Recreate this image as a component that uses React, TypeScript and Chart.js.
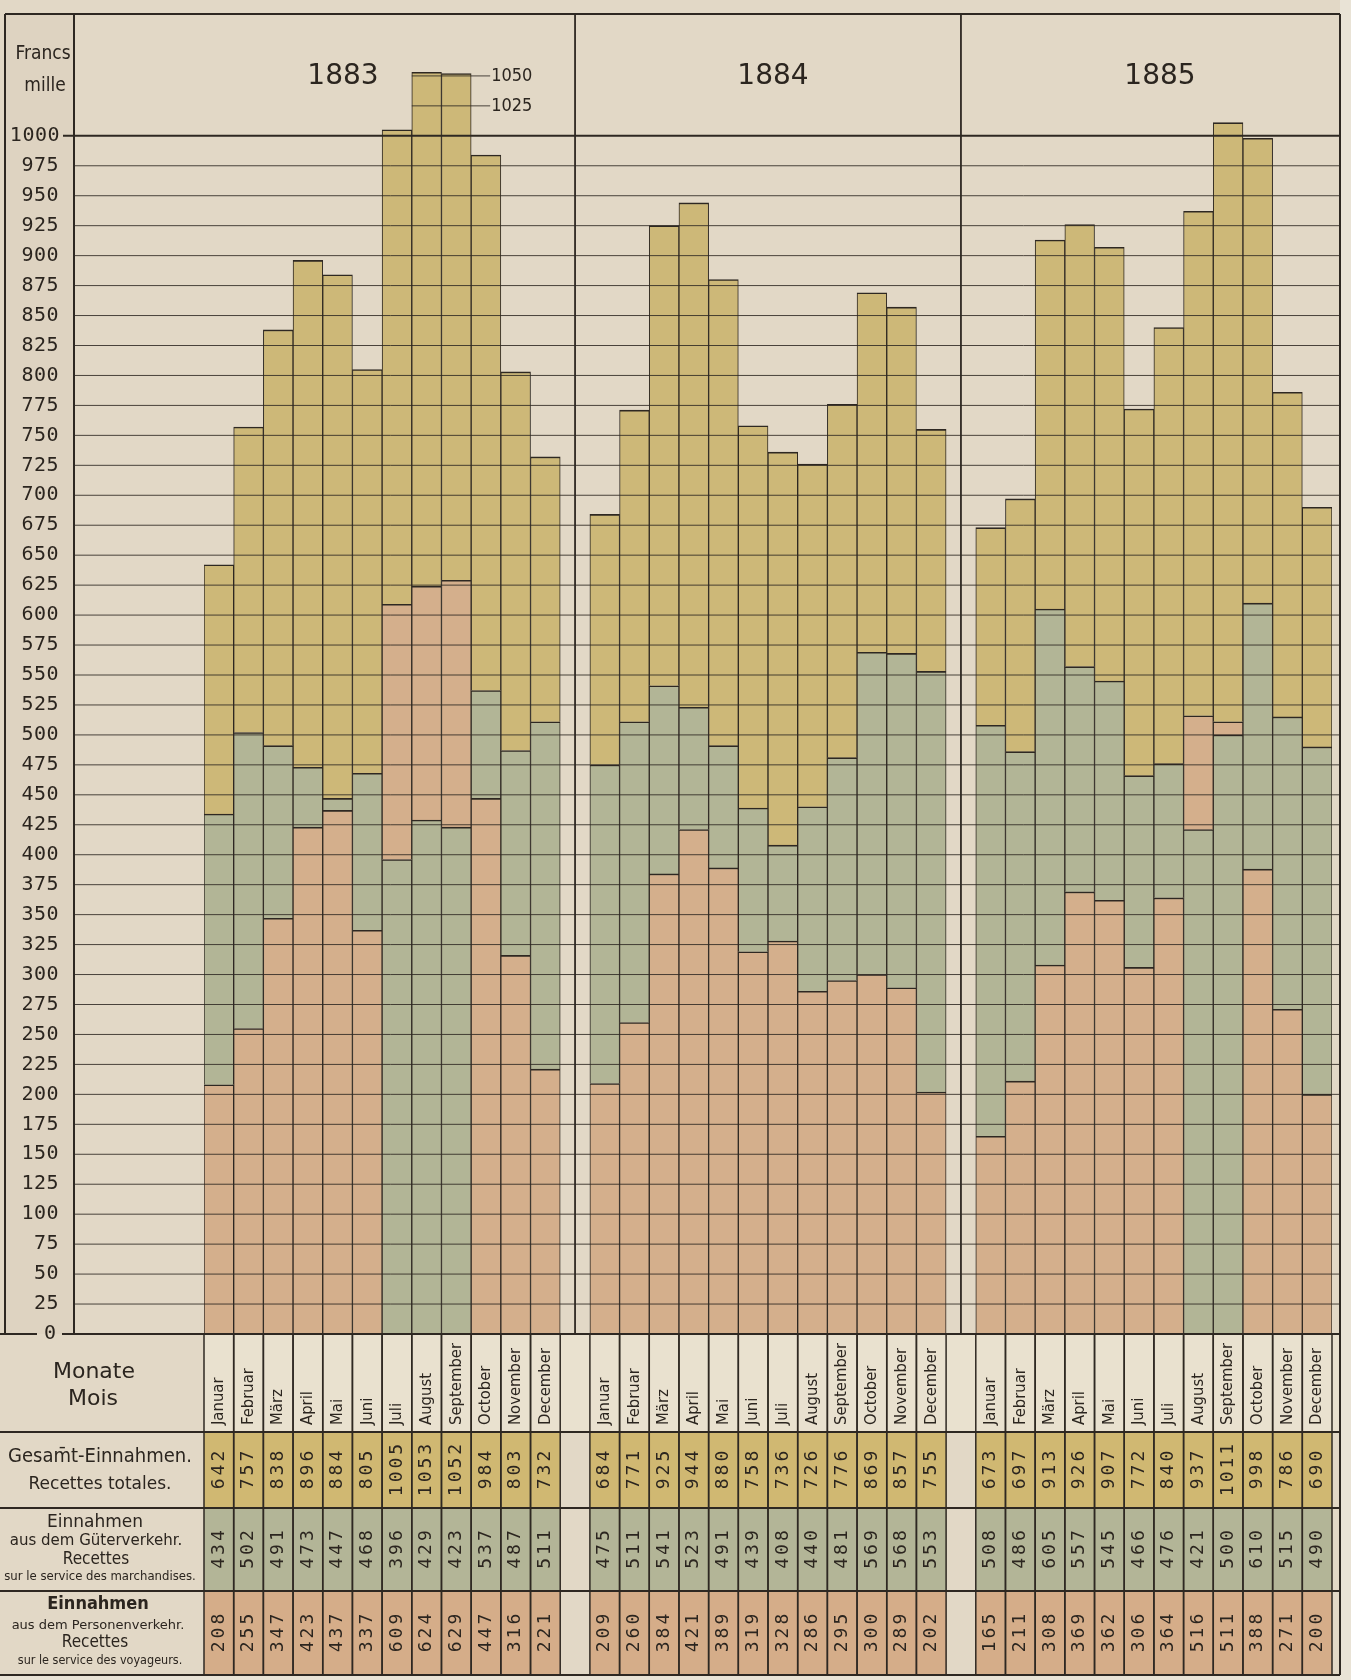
import React, { useEffect, useRef } from "react";
import { Chart, registerables } from "chart.js";

Chart.register(...registerables);

// ---------------- data ----------------
const years = ["1883", "1884", "1885"];
const months = ["Januar", "Februar", "März", "April", "Mai", "Juni", "Juli", "August", "September", "October", "November", "December"];

const total1883 = [642, 757, 838, 896, 884, 805, 1005, 1053, 1052, 984, 803, 732];
const goods1883 = [434, 502, 491, 473, 447, 468, 396, 429, 423, 537, 487, 511];
const passengers1883 = [208, 255, 347, 423, 437, 337, 609, 624, 629, 447, 316, 221];

const total1884 = [684, 771, 925, 944, 880, 758, 736, 726, 776, 869, 857, 755];
const goods1884 = [475, 511, 541, 523, 491, 439, 408, 440, 481, 569, 568, 553];
const passengers1884 = [209, 260, 384, 421, 389, 319, 328, 286, 295, 300, 289, 202];

const total1885 = [673, 697, 913, 926, 907, 772, 840, 937, 1011, 998, 786, 690];
const goods1885 = [508, 486, 605, 557, 545, 466, 476, 421, 500, 610, 515, 490];
const passengers1885 = [165, 211, 308, 369, 362, 306, 364, 516, 511, 388, 271, 200];

const yTicks = [0, 25, 50, 75, 100, 125, 150, 175, 200, 225, 250, 275, 300, 325, 350, 375, 400, 425, 450, 475, 500, 525, 550, 575, 600, 625, 650, 675, 700, 725, 750, 775, 800, 825, 850, 875, 900, 925, 950, 975, 1000];
const upperTicks = [1025, 1050];

// ---------------- build series ----------------
const totalsByYear = [total1883, total1884, total1885];
const goodsByYear = [goods1883, goods1884, goods1885];
const passByYear = [passengers1883, passengers1884, passengers1885];

const labels: string[] = [];
const totals: (number | null)[] = [];
const goods: (number | null)[] = [];
const pass: (number | null)[] = [];
const yearOfSlot: number[] = [];
years.forEach((_, yi) => {
  if (yi > 0) {
    labels.push("");
    totals.push(null);
    goods.push(null);
    pass.push(null);
    yearOfSlot.push(-1);
  }
  months.forEach((m, i) => {
    labels.push(m);
    totals.push(totalsByYear[yi][i]);
    goods.push(goodsByYear[yi][i]);
    pass.push(passByYear[yi][i]);
    yearOfSlot.push(yi);
  });
});

// ---------------- styles ----------------
const W = 1351;
const H = 1680;
const PAPER = "#e2d8c6";
const PAPER_DARK = "#ded3c1";
const CREAM = "#e9e1cf";
const YELLOW = "#cdb878";
const GREEN = "#b2b596";
const PINK = "#d4af8c";
const T_YELLOW = "#d0b872";
const T_GREEN = "#b3b597";
const T_PINK = "#d5ad89";
const INK = "#2b251f";
const LINE = "#2e2822";

const FRAME_TOP = 14;
const FRAME_LEFT = 5;
const AXIS_X = 74;
const FRAME_RIGHT = 1340;
const PLOT_LEFT = 204;
const PLOT_RIGHT = 1332;
const ZERO_Y = 1334;
const ROW_MONTH = 1432;
const ROW_TOTAL = 1508;
const ROW_GOODS = 1591;
const ROW_PASS = 1675;

const isMonth = (i: number) => goods[i] !== null;

const lowData = goods.map((g, i) => (g === null ? null : [0, Math.min(g, pass[i] as number)]));
const midData = goods.map((g, i) => (g === null ? null : [Math.min(g, pass[i] as number), Math.max(g, pass[i] as number)]));
const topData = goods.map((g, i) => (g === null ? null : [Math.max(g, pass[i] as number), totals[i] as number]));
const lowColors = goods.map((g, i) => (g !== null && g < (pass[i] as number) ? GREEN : PINK));
const midColors = goods.map((g, i) => (g !== null && g < (pass[i] as number) ? PINK : GREEN));

function hline(ctx: CanvasRenderingContext2D, x1: number, x2: number, y: number, w: number) {
  ctx.lineWidth = w;
  ctx.beginPath();
  ctx.moveTo(x1, y);
  ctx.lineTo(x2, y);
  ctx.stroke();
}
function vline(ctx: CanvasRenderingContext2D, x: number, y1: number, y2: number, w: number) {
  ctx.lineWidth = w;
  ctx.beginPath();
  ctx.moveTo(x, y1);
  ctx.lineTo(x, y2);
  ctx.stroke();
}
function text(ctx: CanvasRenderingContext2D, s: string, x: number, y: number, font: string, align: CanvasTextAlign = "center", spacing = "0px") {
  ctx.font = font;
  (ctx as any).letterSpacing = spacing;
  ctx.textAlign = align;
  ctx.fillText(s, x, y);
  (ctx as any).letterSpacing = "0px";
}

const COND = "'DejaVu Sans Condensed', 'DejaVu Sans', sans-serif";
const SANS = "'DejaVu Sans', sans-serif";
const MONO = "'DejaVu Sans Mono', monospace";

const decor = {
  id: "decor",
  beforeDraw(chart: any) {
    const ctx: CanvasRenderingContext2D = chart.ctx;
    const xs = chart.scales.x;
    const n = labels.length;
    const w = xs.getPixelForValue(1) - xs.getPixelForValue(0);
    ctx.save();
    ctx.fillStyle = "#e9e3d6";
    ctx.fillRect(0, 0, W, H);
    ctx.fillStyle = PAPER;
    ctx.fillRect(0, 0, FRAME_RIGHT, ROW_PASS);
    ctx.fillStyle = PAPER_DARK;
    ctx.fillRect(FRAME_LEFT, FRAME_TOP, AXIS_X - FRAME_LEFT, ZERO_Y - FRAME_TOP);
    const firstLeft = xs.getPixelForValue(0) - w / 2;
    ctx.fillStyle = CREAM;
    ctx.fillRect(firstLeft, ZERO_Y, FRAME_RIGHT - firstLeft, ROW_MONTH - ZERO_Y);
    for (let i = 0; i < n; i++) {
      if (!isMonth(i)) continue;
      const l = xs.getPixelForValue(i) - w / 2;
      ctx.fillStyle = T_YELLOW;
      ctx.fillRect(l, ROW_MONTH, w, ROW_TOTAL - ROW_MONTH);
      ctx.fillStyle = T_GREEN;
      ctx.fillRect(l, ROW_TOTAL, w, ROW_GOODS - ROW_TOTAL);
      ctx.fillStyle = T_PINK;
      ctx.fillRect(l, ROW_GOODS, w, ROW_PASS - ROW_GOODS);
    }
    ctx.restore();
  },
  afterDatasetsDraw(chart: any) {
    const ctx: CanvasRenderingContext2D = chart.ctx;
    const xs = chart.scales.x;
    const ys = chart.scales.y;
    const n = labels.length;
    const w = xs.getPixelForValue(1) - xs.getPixelForValue(0);
    ctx.save();
    ctx.strokeStyle = LINE;
    ctx.fillStyle = INK;
    ctx.textBaseline = "middle";

    // horizontal gridlines
    yTicks.forEach((v) => {
      const y = ys.getPixelForValue(v);
      if (v === 0) {
        hline(ctx, 0, 37, y, 2);
        hline(ctx, 62, FRAME_RIGHT, y, 2);
        text(ctx, String(v), 56, y, `20px ${MONO}`, "right");
      } else if (v === 1000) {
        hline(ctx, 63, FRAME_RIGHT, y, 2);
        text(ctx, String(v), 60, y, `20px ${MONO}`, "right", "0.5px");
      } else {
        ctx.globalAlpha = 0.85;
        hline(ctx, AXIS_X, FRAME_RIGHT, y, 1);
        ctx.globalAlpha = 1;
        text(ctx, String(v), 59, y, `20px ${MONO}`, "right", "0.5px");
      }
    });

    // partial lines above 1000 (1883 panel)
    upperTicks.forEach((v) => {
      const y = ys.getPixelForValue(v);
      let first = -1;
      let last = -1;
      for (let i = 0; i < n; i++) {
        if (yearOfSlot[i] === 0 && (totals[i] as number) >= v) {
          if (first < 0) first = i;
          last = i;
        }
      }
      if (first >= 0) {
        const x1 = xs.getPixelForValue(first) - w / 2;
        const x2 = xs.getPixelForValue(last) + w / 2 + 19;
        ctx.globalAlpha = 0.85;
        hline(ctx, x1, x2, y, 1);
        ctx.globalAlpha = 1;
        text(ctx, String(v), x2 + 1, y, `18px ${COND}`, "left");
      }
    });

    // frame
    hline(ctx, FRAME_LEFT, FRAME_RIGHT, FRAME_TOP, 2);
    vline(ctx, FRAME_LEFT, FRAME_TOP, ZERO_Y, 2);
    vline(ctx, AXIS_X, FRAME_TOP, ZERO_Y, 2);
    vline(ctx, FRAME_RIGHT, FRAME_TOP, ROW_PASS, 2);
    // year dividers at gap slots
    for (let i = 0; i < n; i++) {
      if (!isMonth(i)) vline(ctx, xs.getPixelForValue(i), FRAME_TOP, ZERO_Y, 1.8);
    }

    // table lines
    [ROW_MONTH, ROW_TOTAL, ROW_GOODS, ROW_PASS].forEach((y) => hline(ctx, 0, FRAME_RIGHT, y, 1.8));
    for (let i = 0; i < n; i++) {
      if (!isMonth(i)) continue;
      const c = xs.getPixelForValue(i);
      vline(ctx, c - w / 2, ZERO_Y, ROW_PASS, 1.5);
      vline(ctx, c + w / 2, ZERO_Y, ROW_PASS, 1.5);
    }

    // header texts
    text(ctx, "Francs", 43, 54, `19px ${COND}`);
    text(ctx, "mille", 45, 86, `19px ${COND}`);
    const titleX = [343, 773, 1160];
    years.forEach((yr, yi) => text(ctx, yr, titleX[yi], 77, `28px ${SANS}`));

    // table row labels
    ctx.textBaseline = "alphabetic";
    text(ctx, "Monate", 94, 1378, `22px ${SANS}`);
    text(ctx, "Mois", 93, 1405, `22px ${SANS}`);
    text(ctx, "Gesam\u0304t-Einnahmen.", 100, 1462, `20px ${COND}`);
    text(ctx, "Recettes totales.", 100, 1489, `17px ${SANS}`);
    text(ctx, "Einnahmen", 95, 1527, `17px ${SANS}`);
    text(ctx, "aus dem Güterverkehr.", 96, 1545, `15px ${SANS}`);
    text(ctx, "Recettes", 96, 1564, `17px ${COND}`);
    text(ctx, "sur le service des marchandises.", 100, 1580, `13px ${COND}`);
    text(ctx, "Einnahmen", 98, 1609, `bold 18px ${COND}`);
    text(ctx, "aus dem Personenverkehr.", 98, 1629, `13px ${SANS}`);
    text(ctx, "Recettes", 95, 1647, `17px ${COND}`);
    text(ctx, "sur le service des voyageurs.", 100, 1664, `12.5px ${COND}`);

    // rotated month names and values
    ctx.textBaseline = "middle";
    const rowCenters = [(ROW_MONTH + ROW_TOTAL) / 2, (ROW_TOTAL + ROW_GOODS) / 2, (ROW_GOODS + ROW_PASS) / 2];
    for (let i = 0; i < n; i++) {
      if (!isMonth(i)) continue;
      const c = xs.getPixelForValue(i);
      ctx.save();
      ctx.translate(c, ROW_MONTH - 7);
      ctx.rotate(-Math.PI / 2);
      text(ctx, labels[i], 0, 0, `16.5px ${COND}`, "left");
      ctx.restore();
      const vals = [totals[i], goods[i], pass[i]];
      vals.forEach((v, r) => {
        ctx.save();
        ctx.translate(c, rowCenters[r]);
        ctx.rotate(-Math.PI / 2);
        text(ctx, String(v), 1.5, 0, `18px ${MONO}`, "center", "3px");
        ctx.restore();
      });
    }
    ctx.restore();
  },
};

export default function App() {
  const ref = useRef<HTMLCanvasElement | null>(null);
  useEffect(() => {
    document.body.style.margin = "0";
    const canvas = ref.current as HTMLCanvasElement;
    const chart = new Chart(canvas, {
      type: "bar",
      data: {
        labels,
        datasets: [
          { label: "unten", data: lowData as any, backgroundColor: lowColors },
          { label: "mitte", data: midData as any, backgroundColor: midColors },
          { label: "Gesamt-Einnahmen", data: topData as any, backgroundColor: YELLOW },
        ],
      },
      options: {
        responsive: false,
        animation: false,
        devicePixelRatio: 1,
        layout: { padding: { left: PLOT_LEFT, right: W - PLOT_RIGHT, top: 16, bottom: H - ZERO_Y } },
        plugins: { legend: { display: false }, tooltip: { enabled: false }, title: { display: false } },
        scales: {
          x: { display: false, offset: true, grid: { display: false } },
          y: { display: false, min: 0, max: 1100 },
        },
        datasets: {
          bar: {
            grouped: false,
            barPercentage: 1,
            categoryPercentage: 1,
            borderColor: LINE,
            borderWidth: { top: 1.6, left: 1, right: 1, bottom: 0 } as any,
            borderSkipped: false,
          } as any,
        },
      },
      plugins: [decor as any],
    });
    return () => chart.destroy();
  }, []);
  return (
    <div style={{ width: W, height: H }}>
      <canvas ref={ref} width={W} height={H} style={{ display: "block", width: W, height: H }} />
    </div>
  );
}
